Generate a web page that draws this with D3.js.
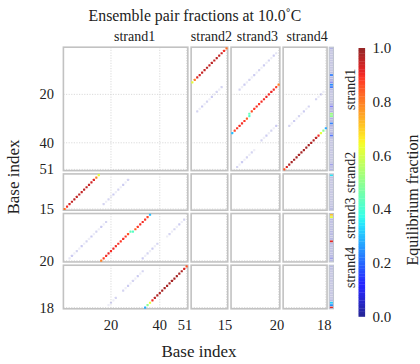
<!DOCTYPE html>
<html>
<head>
<meta charset="utf-8">
<script src="https://cdn.jsdelivr.net/npm/d3@7"></script>
<style>
  body { margin: 0; background: #fff; }
  text { font-family: "Liberation Serif", "DejaVu Serif", serif; fill: #222; }
</style>
</head>
<body>
<script>
// ---- data ----
const strands = ['strand1', 'strand2', 'strand3', 'strand4']
const lengths = [51, 15, 20, 18]
const tickValues = [[20, 40, 51], [15], [20], [18]]
const colorTicks = [0, 0.2, 0.4, 0.6, 0.8, 1.0]

// [base in first strand, base in second strand, fraction]
const pairs12 = [
  [1, 15, 0.82], [2, 14, 0.9], [3, 13, 0.94], [4, 12, 0.95], [5, 11, 0.96], [6, 10, 0.95], [7, 9, 0.96],
  [8, 8, 0.95], [9, 7, 0.96], [10, 6, 0.95], [11, 5, 0.95], [12, 4, 0.94], [13, 3, 0.92], [14, 2, 0.8], [15, 1, 0.62],
  [27, 3, 0.04], [26, 4, 0.01], [25, 5, 0.05], [24, 6, 0.01], [23, 7, 0.04], [22, 8, 0.01], [21, 9, 0.05],
  [20, 10, 0.01], [19, 11, 0.04], [18, 12, 0.01], [17, 13, 0.04]
]
const pairs13 = [
  [16, 20, 0.8], [17, 19, 0.88], [18, 18, 0.9], [19, 17, 0.91], [20, 16, 0.9], [21, 15, 0.91], [22, 14, 0.9],
  [23, 13, 0.9], [24, 12, 0.89], [25, 11, 0.9], [26, 10, 0.89], [27, 9, 0.86], [28, 8, 0.44], [29, 8, 0.42],
  [30, 7, 0.84], [31, 6, 0.89], [32, 5, 0.9], [33, 4, 0.9], [34, 3, 0.89], [35, 2, 0.87], [36, 1, 0.3],
  [18, 4, 0.04], [17, 5, 0.01], [16, 6, 0.05], [15, 7, 0.01], [14, 8, 0.04], [13, 9, 0.01], [12, 10, 0.05],
  [11, 11, 0.01], [10, 12, 0.04], [9, 13, 0.01], [8, 14, 0.05], [7, 15, 0.01], [6, 16, 0.04], [5, 17, 0.01],
  [4, 18, 0.05], [3, 19, 0.02],
  [50, 3, 0.04], [49, 4, 0.01], [48, 5, 0.05], [47, 6, 0.01], [46, 7, 0.04], [45, 8, 0.01], [44, 9, 0.04], [43, 10, 0.01],
  [39, 13, 0.04], [38, 14, 0.01], [37, 15, 0.05], [36, 16, 0.01], [35, 17, 0.04], [34, 18, 0.01], [33, 19, 0.05]
]
const pairs14 = [
  [51, 1, 0.85], [50, 2, 0.93], [49, 3, 0.97], [48, 4, 0.98], [47, 5, 0.98], [46, 6, 0.98], [45, 7, 0.98],
  [44, 8, 0.98], [43, 9, 0.98], [42, 10, 0.98], [41, 11, 0.98], [40, 12, 0.97], [39, 13, 0.97], [38, 14, 0.96],
  [37, 15, 0.9], [36, 16, 0.62], [35, 17, 0.5], [34, 18, 0.28],
  [33, 3, 0.04], [32, 4, 0.01], [31, 5, 0.05], [30, 6, 0.01], [29, 7, 0.04], [28, 8, 0.01], [27, 9, 0.05],
  [26, 10, 0.01], [25, 11, 0.04], [22, 14, 0.04], [21, 15, 0.01], [20, 16, 0.04], [19, 17, 0.01]
]

// unpaired column, one value per base
const unpaired1 = [
  0.06, 0.03, 0.03, 0.03, 0.03, 0.03, 0.03, 0.03, 0.03, 0.03,
  0.04, 0.22, 0.05, 0.06, 0.1, 0.24, 0.2, 0.05, 0.03, 0.03,
  0.03, 0.03, 0.04, 0.05, 0.12, 0.05, 0.06, 0.52, 0.5, 0.06,
  0.05, 0.22, 0.06, 0.05, 0.04, 0.06, 0.18, 0.04, 0.03, 0.03,
  0.03, 0.03, 0.03, 0.03, 0.03, 0.03, 0.03, 0.03, 0.08, 0.04,
  0.05
]
const unpaired2 = [0.35, 0.04, 0.03, 0.03, 0.03, 0.03, 0.03, 0.03, 0.03, 0.03, 0.03, 0.03, 0.03, 0.04, 0.05]
const unpaired3 = [0.72, 0.62, 0.05, 0.04, 0.04, 0.04, 0.04, 0.05, 0.05, 0.04, 0.05, 0.92, 0.05, 0.04, 0.04, 0.04, 0.04, 0.05, 0.08, 0.05]
const unpaired4 = [0.05, 0.04, 0.03, 0.03, 0.03, 0.03, 0.03, 0.03, 0.03, 0.03, 0.03, 0.03, 0.03, 0.03, 0.05, 0.32, 0.25, 0.92]

// ---- layout ----
let width = 420,
  height = 364,
  marginLeft = 63.4,
  marginTop = 47.2,
  cellX = 2.44,
  cellY = 2.42,
  gap = 3.3

let svg = d3.select('body').append('svg')
  .attr('width', width)
  .attr('height', height)

// jet colour map, a bit washed out
const jetR = d3.scaleLinear().domain([0, 0.35, 0.66, 0.89, 1]).range([0, 0, 1, 1, 0.5]).clamp(true)
const jetG = d3.scaleLinear().domain([0, 0.125, 0.375, 0.64, 0.91, 1]).range([0, 0, 1, 1, 0, 0]).clamp(true)
const jetB = d3.scaleLinear().domain([0, 0.11, 0.34, 0.65, 1]).range([0.5, 1, 1, 0, 0]).clamp(true)
const mix = 0.85
function color(p) {
  let f = c => Math.round(255 * (mix * c + 1 - mix))
  return d3.rgb(f(jetR(p)), f(jetG(p)), f(jetB(p))).toString()
}
const opacity = p => Math.min(1, 0.04 + p * 4)

let xScales = [], yScales = []
let ox = marginLeft, oy = marginTop
lengths.forEach((n, k) => {
  xScales.push(d3.scaleLinear().domain([0.5, n + 0.5]).range([ox, ox + n * cellX]))
  yScales.push(d3.scaleLinear().domain([0.5, n + 0.5]).range([oy, oy + n * cellY]))
  ox += n * cellX + gap
  oy += n * cellY + gap
})

// panels
let panels = []
lengths.forEach((_, r) => lengths.forEach((_, c) => panels.push({ r, c })))

let pg = svg.selectAll('g.panel')
  .data(panels)
  .enter()
  .append('g')
  .attr('class', 'panel')

pg.append('rect')
  .attr('x', d => xScales[d.c].range()[0])
  .attr('y', d => yScales[d.r].range()[0])
  .attr('width', d => xScales[d.c].range()[1] - xScales[d.c].range()[0])
  .attr('height', d => yScales[d.r].range()[1] - yScales[d.r].range()[0])
  .attr('fill', '#fff')

pg.each(function (d) {
  let g = d3.select(this)
  let xs = xScales[d.c], ys = yScales[d.r]
  g.selectAll('line.vx')
    .data(tickValues[d.c])
    .enter()
    .append('line')
    .attr('x1', t => xs(t)).attr('x2', t => xs(t))
    .attr('y1', ys.range()[0]).attr('y2', ys.range()[1])
    .attr('stroke', '#d2d2d2').attr('stroke-width', 0.8).attr('stroke-dasharray', '1.2,1.4')
  g.selectAll('line.hy')
    .data(tickValues[d.r])
    .enter()
    .append('line')
    .attr('y1', t => ys(t)).attr('y2', t => ys(t))
    .attr('x1', xs.range()[0]).attr('x2', xs.range()[1])
    .attr('stroke', '#d2d2d2').attr('stroke-width', 0.8).attr('stroke-dasharray', '1.2,1.4')
})

// pair marks, symmetric
let marks = []
;[[0, 1, pairs12], [0, 2, pairs13], [0, 3, pairs14]].forEach(([a, b, list]) => {
  list.forEach(([i, j, p]) => {
    marks.push({ r: a, c: b, y: i, x: j, p })
    marks.push({ r: b, c: a, y: j, x: i, p })
  })
})
marks.sort((m, n) => m.p - n.p)

const dot = 2.2
svg.append('g').selectAll('rect')
  .data(marks)
  .enter()
  .append('rect')
  .attr('x', d => xScales[d.c](d.x) - dot / 2)
  .attr('y', d => yScales[d.r](d.y) - dot / 2)
  .attr('width', dot)
  .attr('height', dot)
  .attr('rx', 0.4)
  .attr('fill', d => color(d.p))
  .attr('fill-opacity', d => opacity(d.p))

pg.append('rect')
  .attr('x', d => xScales[d.c].range()[0])
  .attr('y', d => yScales[d.r].range()[0])
  .attr('width', d => xScales[d.c].range()[1] - xScales[d.c].range()[0])
  .attr('height', d => yScales[d.r].range()[1] - yScales[d.r].range()[0])
  .attr('fill', 'none')
  .attr('stroke', '#c2c2c2')
  .attr('stroke-width', 1.6)

// unpaired column
const colX = xScales[3].range()[1] + 2.2, colW = 4.2
;[unpaired1, unpaired2, unpaired3, unpaired4].forEach((vals, k) => {
  let ys = yScales[k]
  let g = svg.append('g')
  g.append('rect')
    .attr('x', colX)
    .attr('y', ys.range()[0])
    .attr('width', colW)
    .attr('height', ys.range()[1] - ys.range()[0])
    .attr('fill', '#e6e6ee')
  g.selectAll('rect.cell')
    .data(vals)
    .enter()
    .append('rect')
    .attr('x', colX + 0.3)
    .attr('y', (v, i) => ys(i + 1) - cellY / 2 + 0.3)
    .attr('width', colW - 0.6)
    .attr('height', cellY - 0.6)
    .attr('fill', v => color(v))
    .attr('fill-opacity', v => opacity(v))
  g.append('rect')
    .attr('x', colX)
    .attr('y', ys.range()[0])
    .attr('width', colW)
    .attr('height', ys.range()[1] - ys.range()[0])
    .attr('fill', 'none')
    .attr('stroke', '#bfc4cf')
    .attr('stroke-width', 1.1)
})

// tick labels
const axisY = 330
lengths.forEach((n, k) => {
  svg.append('g').selectAll('text')
    .data(tickValues[k])
    .enter()
    .append('text')
    .attr('x', t => xScales[k](t) - (t === n ? 1.5 : 0))
    .attr('y', axisY)
    .attr('text-anchor', 'middle')
    .attr('font-size', 14.5)
    .text(t => t)
  svg.append('g').selectAll('text')
    .data(tickValues[k])
    .enter()
    .append('text')
    .attr('x', 54)
    .attr('y', t => yScales[k](t))
    .attr('dy', '0.35em')
    .attr('text-anchor', 'end')
    .attr('font-size', 14.5)
    .text(t => t)
})

// strand labels
svg.append('g').selectAll('text')
  .data(strands)
  .enter()
  .append('text')
  .attr('x', (s, k) => d3.mean(xScales[k].range()) + (k === 0 ? 9 : 2))
  .attr('y', 40.5)
  .attr('text-anchor', 'middle')
  .attr('font-size', 14)
  .text(s => s)

svg.append('g').selectAll('text')
  .data(strands)
  .enter()
  .append('text')
  .attr('transform', (s, k) => 'translate(354.5,' + (d3.mean(yScales[k].range()) + 1) + ') rotate(-90)')
  .attr('text-anchor', 'start')
  .attr('font-size', 14)
  .text(s => s)

// titles
svg.append('text')
  .attr('x', 195).attr('y', 21)
  .attr('text-anchor', 'middle')
  .attr('font-size', 15.8)
  .text('Ensemble pair fractions at 10.0˚C')

svg.append('text')
  .attr('x', 199).attr('y', 357)
  .attr('text-anchor', 'middle')
  .attr('font-size', 17)
  .text('Base index')

svg.append('text')
  .attr('transform', 'translate(19,177) rotate(-90)')
  .attr('text-anchor', 'middle')
  .attr('font-size', 17)
  .text('Base index')

// colour bar
const cbTop = 48, cbBottom = 316.5
let cbScale = d3.scaleLinear().domain([0, 1]).range([cbBottom, cbTop])
let bands = d3.range(0, 1, 0.01)
svg.append('g').selectAll('rect')
  .data(bands)
  .enter()
  .append('rect')
  .attr('x', 358.5)
  .attr('y', d => cbScale(d + 0.01))
  .attr('width', 6.6)
  .attr('height', cbScale(0) - cbScale(0.01) + 0.3)
  .attr('fill', d => color(d + 0.005))

svg.append('g').selectAll('text')
  .data(colorTicks)
  .enter()
  .append('text')
  .attr('x', 372.5)
  .attr('y', d => cbScale(d))
  .attr('dy', '0.35em')
  .attr('font-size', 15)
  .text(d => d.toFixed(1))

svg.append('text')
  .attr('transform', 'translate(418,200) rotate(-90)')
  .attr('text-anchor', 'middle')
  .attr('font-size', 16)
  .text('Equilibrium fraction')
</script>
</body>
</html>
